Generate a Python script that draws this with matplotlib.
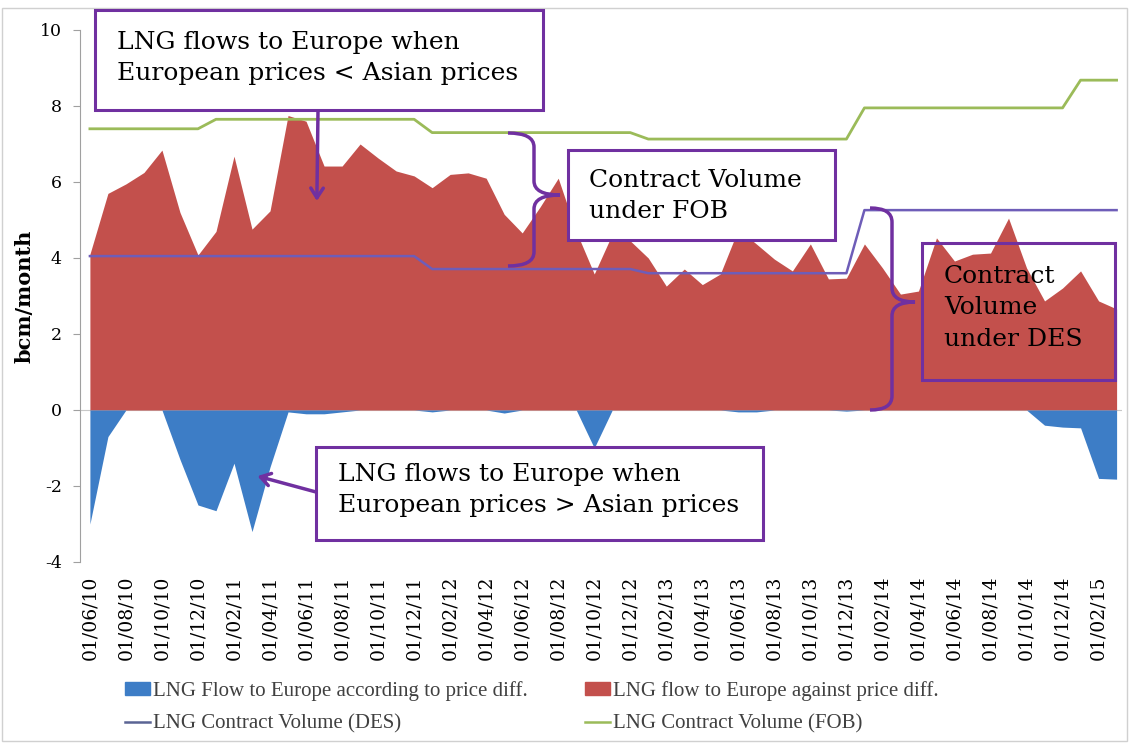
import numpy as np
import matplotlib
matplotlib.use("Agg")
import matplotlib.pyplot as plt
from matplotlib.patches import Rectangle, PathPatch
from matplotlib.path import Path
from matplotlib.lines import Line2D
from matplotlib.transforms import Affine2D

# monthly values, June 2010 .. March 2015 (bcm/month)
red = [4.1, 5.7, 5.95, 6.25, 6.84, 5.2, 4.08, 4.7, 6.68, 4.76,
       5.24, 7.75, 7.6, 6.42, 6.42, 7.0, 6.63, 6.29, 6.16, 5.85,
       6.2, 6.24, 6.1, 5.15, 4.66, 5.35, 6.1, 4.7, 3.58, 4.63,
       4.45, 4.0, 3.26, 3.71, 3.3, 3.58, 4.76, 4.37, 3.97, 3.66,
       4.37, 3.45, 3.47, 4.37, 3.74, 3.05, 3.13, 4.53, 3.92, 4.1,
       4.13, 5.05, 3.74, 2.87, 3.21, 3.66, 2.87, 2.66]
blue = [-3.0, -0.7, 0, 0, 0, -1.3, -2.5, -2.65, -1.4, -3.2,
        -1.5, -0.05, -0.1, -0.1, -0.05, 0, 0, 0, 0, -0.05,
        0, 0, 0, -0.08, 0, 0, 0, 0, -1.0, 0,
        0, 0, 0, 0, 0, 0, -0.05, -0.05, 0, 0,
        0, 0, -0.03, 0, 0, 0, 0, 0, 0, 0,
        0, 0, 0, -0.4, -0.45, -0.47, -1.8, -1.82]
des = [4.05, 4.05, 4.05, 4.05, 4.05, 4.05, 4.05, 4.05, 4.05, 4.05,
       4.05, 4.05, 4.05, 4.05, 4.05, 4.05, 4.05, 4.05, 4.05, 3.71,
       3.71, 3.71, 3.71, 3.71, 3.71, 3.71, 3.71, 3.71, 3.71, 3.71,
       3.71, 3.6, 3.6, 3.6, 3.6, 3.6, 3.6, 3.6, 3.6, 3.6,
       3.6, 3.6, 3.6, 5.26, 5.26, 5.26, 5.26, 5.26, 5.26, 5.26,
       5.26, 5.26, 5.26, 5.26, 5.26, 5.26, 5.26, 5.26]
fob = [7.4, 7.4, 7.4, 7.4, 7.4, 7.4, 7.4, 7.65, 7.65, 7.65,
       7.65, 7.65, 7.65, 7.65, 7.65, 7.65, 7.65, 7.65, 7.65, 7.3,
       7.3, 7.3, 7.3, 7.3, 7.3, 7.3, 7.3, 7.3, 7.3, 7.3,
       7.3, 7.13, 7.13, 7.13, 7.13, 7.13, 7.13, 7.13, 7.13, 7.13,
       7.13, 7.13, 7.13, 7.95, 7.95, 7.95, 7.95, 7.95, 7.95, 7.95,
       7.95, 7.95, 7.95, 7.95, 7.95, 8.68, 8.68, 8.68]
tick_labels = ["01/06/10", "01/08/10", "01/10/10", "01/12/10", "01/02/11",
               "01/04/11", "01/06/11", "01/08/11", "01/10/11", "01/12/11",
               "01/02/12", "01/04/12", "01/06/12", "01/08/12", "01/10/12",
               "01/12/12", "01/02/13", "01/04/13", "01/06/13", "01/08/13",
               "01/10/13", "01/12/13", "01/02/14", "01/04/14", "01/06/14",
               "01/08/14", "01/10/14", "01/12/14", "01/02/15"]
y_ticks = [-4, -2, 0, 2, 4, 6, 8, 10]

RED = "#C3504C"
BLUE = "#3D7DC6"
DES_C = "#6E5DB8"
FOB_C = "#9BBB59"
PURPLE = "#7030A0"
SERIF = "DejaVu Serif"

W, H = 1130, 744
fig = plt.figure(figsize=(W / 100, H / 100), dpi=100)
ax = fig.add_axes([80 / W, 1 - 562 / H, (1122 - 80) / W, (562 - 30) / H])
# pixel coordinates (origin top-left) for the callouts
px = Affine2D().scale(1 / W, -1 / H).translate(0, 1) + fig.transFigure

x = np.arange(len(red))
ax.fill_between(x, 0, red, color=RED, lw=0, zorder=1)
ax.fill_between(x, 0, blue, color=BLUE, lw=0, zorder=2)
ax.axhline(0, color="#C8C8C8", lw=0.8, zorder=0.5)
ax.plot(x, des, color=DES_C, lw=1.8, zorder=3)
ax.plot(x, fob, color=FOB_C, lw=2.0, zorder=3)

ax.set_xlim(-0.55, 57.3)
ax.set_ylim(-4, 10)
ax.set_yticks(y_ticks)
ax.set_yticklabels([str(v) for v in y_ticks], fontfamily=SERIF, fontsize=12.5)
ax.set_xticks(x[::2])
ax.set_xticklabels(tick_labels, rotation=90, fontfamily=SERIF, fontsize=13.5)
ax.tick_params(axis="x", length=0, pad=10)
ax.tick_params(axis="y", length=5, color="#A0A0A0", pad=8)
for s in ["top", "right", "bottom"]:
    ax.spines[s].set_visible(False)
ax.spines["left"].set_color("#A0A0A0")
ax.spines["left"].set_linewidth(0.8)
ax.set_ylabel("bcm/month", fontfamily=SERIF, fontweight="bold", fontsize=15, labelpad=4)

# legend (two columns placed separately)
leg_font = dict(family="Liberation Serif", size=15)
h_blue = Rectangle((0, 0), 1, 1, color=BLUE)
h_red = Rectangle((0, 0), 1, 1, color=RED)
h_des = Line2D([], [], color="#5A6494", lw=1.8)
h_fob = Line2D([], [], color=FOB_C, lw=1.8)
for handles, labels, xl in [
    ([h_blue, h_des], ["LNG Flow to Europe according to price diff.", "LNG Contract Volume (DES)"], 125),
    ([h_red, h_fob], ["LNG flow to Europe against price diff.", "LNG Contract Volume (FOB)"], 585),
]:
    lg = fig.legend(handles, labels, loc="upper left", bbox_to_anchor=(xl, 681),
                    bbox_transform=px, frameon=False, prop=leg_font,
                    handlelength=1.2, handleheight=0.55, handletextpad=0.15,
                    labelspacing=0.65, borderaxespad=0, borderpad=0)
    for t in lg.get_texts():
        t.set_color("#404040")

# chart border
fig.patches.append(Rectangle((2, 8), 1125, 733, transform=px, fill=False,
                             edgecolor="#D0D0D0", lw=1, zorder=0))

box_font = dict(family=SERIF, size=18)


def callout(x0, y0, w, h, text, tx, ty, fill=True):
    fig.patches.append(Rectangle((x0, y0), w, h, transform=px,
                                 facecolor="white" if fill else "none",
                                 edgecolor=PURPLE, lw=2.2, zorder=5))
    fig.text(tx, ty, text, transform=px, ha="left", va="center",
             linespacing=1.45, zorder=6, **box_font)


def brace(x0, x1, tip, yt, ym, yb, r=14):
    verts = [(x0, yt), (x1, yt), (x1, yt + r), (x1, ym - r), (x1, ym), (tip, ym),
             (x1, ym), (x1, ym + r), (x1, yb - r), (x1, yb), (x0, yb)]
    codes = [Path.MOVETO, Path.CURVE3, Path.CURVE3, Path.LINETO, Path.CURVE3, Path.CURVE3,
             Path.CURVE3, Path.CURVE3, Path.LINETO, Path.CURVE3, Path.CURVE3]
    fig.patches.append(PathPatch(Path(verts, codes), transform=px, fill=False,
                                 edgecolor=PURPLE, lw=2.5, zorder=5))


callout(95, 10, 448, 100, "LNG flows to Europe when\nEuropean prices < Asian prices", 117, 58)
callout(568, 150, 267, 90, "Contract Volume\nunder FOB", 589, 196)
callout(922, 243, 193, 137, "Contract\nVolume\nunder DES", 944, 308, fill=False)
callout(316, 447, 447, 93, "LNG flows to Europe when\nEuropean prices > Asian prices", 338, 490)

brace(508, 534, 560, 133, 195, 266)
brace(870, 892, 915, 208, 302, 410)

arrow = dict(arrowstyle="->,head_length=0.7,head_width=0.45", color=PURPLE, lw=2.5,
             shrinkA=0, shrinkB=0)
ax.annotate("", xy=(12.6, 5.5), xycoords="data", xytext=(318, 111), textcoords=px,
            arrowprops=arrow, zorder=6)
ax.annotate("", xy=(9.3, -1.74), xycoords="data", xytext=(316, 492), textcoords=px,
            arrowprops=arrow, zorder=6)

fig.savefig("out.png", dpi=100)
